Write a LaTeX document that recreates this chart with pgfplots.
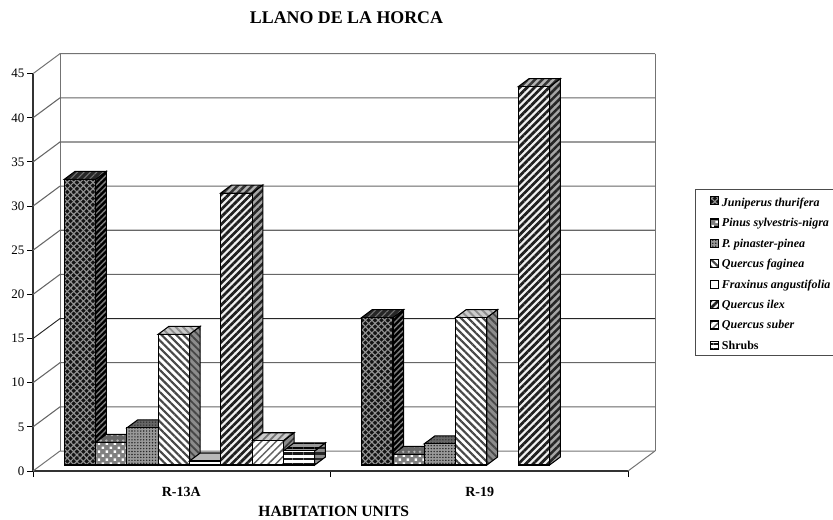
\documentclass[border=0pt]{standalone}
\usepackage{pgfplots}
\pgfplotsset{compat=1.18}
\usepackage{fontspec}
\setmainfont{Liberation Serif}
\usetikzlibrary{patterns.meta}
% 1 reference pixel = 0.75pt
\tikzset{
 % series 1: Juniperus
 F1/.style={fill=black!92},
 R1/.style={pattern={Lines[angle=45,distance=3.4pt,line width=0.85pt]},pattern color=black!42},
 P1/.style={pattern={Lines[angle=-45,distance=3.4pt,line width=0.85pt]},pattern color=black!42},
 S1/.style={fill=black}, SP1/.style={pattern={Lines[angle=45,distance=3pt,line width=1pt]},pattern color=black!50},
 T1/.style={fill=black!85}, TP1/.style={pattern={Lines[angle=45,distance=3.4pt,line width=0.8pt]},pattern color=black!55},
 % series 2: Pinus
 F2/.style={fill=black!50},
 R2/.style={draw=none},
 P2/.style={pattern={Dots[radius=1.3pt,distance=4.2pt,angle=45]},pattern color=white},
 S2/.style={fill=black!65}, SP2/.style={pattern={Dots[radius=1pt,distance=4.2pt]},pattern color=black!35},
 T2/.style={fill=black!60}, TP2/.style={pattern={Dots[radius=1pt,distance=4.2pt]},pattern color=black!30},
 % series 3: P. pinaster
 F3/.style={fill=black!40},
 R3/.style={draw=none},
 P3/.style={pattern={Dots[radius=0.6pt,distance=2.2pt]},pattern color=black!85},
 S3/.style={fill=black!65}, SP3/.style={pattern={Dots[radius=0.6pt,distance=2.2pt]},pattern color=black!85},
 T3/.style={fill=black!60}, TP3/.style={pattern={Dots[radius=0.6pt,distance=2.2pt]},pattern color=black!80},
 % series 4: Q. faginea
 F4/.style={fill=white},
 R4/.style={draw=none},
 P4/.style={pattern={Lines[angle=-45,distance=3.9pt,line width=1.6pt]},pattern color=black!72},
 S4/.style={fill=black!45}, SP4/.style={pattern={Lines[angle=-45,distance=3.9pt,line width=1.4pt]},pattern color=black!72},
 T4/.style={fill=black!20}, TP4/.style={pattern={Lines[angle=-45,distance=3.9pt,line width=1.4pt]},pattern color=black!45},
 % series 5: Fraxinus
 F5/.style={fill=white},
 R5/.style={draw=none},
 P5/.style={},
 S5/.style={fill=black!50}, SP5/.style={},
 T5/.style={fill=black!28}, TP5/.style={},
 % series 6: Q. ilex
 F6/.style={fill=black!6},
 R6/.style={draw=none},
 P6/.style={pattern={Lines[angle=45,distance=3.9pt,line width=2.05pt]},pattern color=black!88},
 S6/.style={fill=black!35}, SP6/.style={pattern={Lines[angle=45,distance=3.9pt,line width=1.9pt]},pattern color=black!85},
 T6/.style={fill=black!30}, TP6/.style={pattern={Lines[angle=45,distance=3.9pt,line width=1.9pt]},pattern color=black!80},
 % series 7: Q. suber
 F7/.style={fill=white},
 R7/.style={draw=none},
 P7/.style={pattern={Lines[angle=45,distance=3.9pt,line width=1.1pt]},pattern color=black!62},
 S7/.style={fill=black!45}, SP7/.style={pattern={Lines[angle=45,distance=3.9pt,line width=1.3pt]},pattern color=black!78},
 T7/.style={fill=black!20}, TP7/.style={pattern={Lines[angle=45,distance=3.9pt,line width=1.3pt]},pattern color=black!55},
 % series 8: Shrubs
 F8/.style={fill=white},
 R8/.style={draw=none},
 P8/.style={pattern={Lines[angle=0,distance=4.1pt,line width=2pt]},pattern color=black!90},
 S8/.style={fill=black!45}, SP8/.style={pattern={Lines[angle=0,distance=4.1pt,line width=1.8pt]},pattern color=black!85},
 T8/.style={fill=black!40}, TP8/.style={pattern={Lines[angle=0,distance=4.1pt,line width=1.8pt]},pattern color=black},
 wall/.style={draw=black!55,line width=0.75pt},
}
\newcommand\facex[3]{%
 \addplot[#1,draw=none,forget plot] coordinates {#3} --cycle;%
 \addplot[#2,draw=black,line width=0.8pt,forget plot] coordinates {#3} --cycle;}
\newcommand\facef[4]{%
 \addplot[#1,draw=none,forget plot] coordinates {#4} --cycle;%
 \addplot[#2,draw=none,forget plot] coordinates {#4} --cycle;%
 \addplot[#3,draw=black,line width=0.8pt,forget plot] coordinates {#4} --cycle;}
% \threedbar{series}{left x (px)}{value}
\newcommand\threedbar[3]{%
 \pgfmathsetmacro\xa{#2}\pgfmathsetmacro\xb{#2+31.3}\pgfmathsetmacro\xc{#2+42}\pgfmathsetmacro\xd{#2+10.7}%
 \pgfmathsetmacro\ya{0.68}\pgfmathsetmacro\yb{#3+0.68}%
 \pgfmathsetmacro\yc{0.68+0.906}\pgfmathsetmacro\yd{#3+0.68+0.906}%
 \edef\doit{%
 \noexpand\facex{S#1}{SP#1}{(\xb,\ya)(\xc,\yc)(\xc,\yd)(\xb,\yb)}%
 \noexpand\facex{T#1}{TP#1}{(\xa,\yb)(\xb,\yb)(\xc,\yd)(\xd,\yd)}%
 \noexpand\facef{F#1}{R#1}{P#1}{(\xa,\ya)(\xb,\ya)(\xb,\yb)(\xa,\yb)}%
 }\doit}
\newcommand\swatch[1]{\fill[F#1] (0pt,-2.5pt) rectangle (6pt,3.5pt);\path[R#1] (0pt,-2.5pt) rectangle (6pt,3.5pt);\draw[P#1,draw=black,line width=0.9pt] (0pt,-2.5pt) rectangle (6pt,3.5pt);}
\begin{document}
\begin{tikzpicture}[x=1pt,y=1pt]
\path[use as bounding box] (0,0) rectangle (624.75,389.25);
\begin{axis}[
 at={(24.75pt,36pt)},anchor=south west,
 scale only axis,width=446.25pt,height=298pt,
 xmin=33,xmax=628,ymin=0,ymax=45,clip=false,
 axis x line*=bottom,axis y line*=left,
 axis line style={black!80,line width=1pt},
 tick align=outside,major tick length=4.5pt,minor tick length=4.5pt,
 ytick={0,5,...,45},
 xtick={181.25,479.75},xticklabels={R-13A,R-19},
 minor xtick={33,330.5,628},
 major x tick style={draw=none},
 minor x tick style={draw=black,line width=0.75pt},
 y tick style={draw=black,line width=0.75pt},
 /pgf/number format/assume math mode=true,
 tick label style={font=\fontsize{9.75}{11}\selectfont},
 yticklabel style={xshift=1.5pt},
 xticklabel style={font=\fontsize{10.5}{12}\selectfont\bfseries,yshift=-4pt},
 title={LLANO DE LA HORCA},
 title style={font=\fontsize{13.4}{15}\selectfont\bfseries,at={(axis description cs:0.5269,1.122)},anchor=center},
 xlabel={HABITATION UNITS},
 xlabel style={font=\fontsize{11.7}{13}\selectfont\bfseries,at={(axis description cs:0.5055,-0.102)},anchor=center},
 legend style={at={(axis description cs:1.112,0.7097)},anchor=north west,draw=black!70,line width=1pt,
   font=\fontsize{9}{11}\selectfont\bfseries\itshape,inner xsep=11pt,inner ysep=1.5pt,
   row sep=3.5pt,cells={anchor=west}},
]
% back walls, floor, gridlines
\addplot[wall,forget plot] coordinates {(60,2.265)(60,47.265)};
\addplot[wall,forget plot] coordinates {(655,2.265)(655,47.265)};
\addplot[wall,forget plot] coordinates {(628,0)(655,2.265)};
\addplot[wall,forget plot] coordinates {(33,0)(60,2.265)(655,2.265)};
\addplot[draw=black!60,line width=0.8pt,forget plot] coordinates {(33,5)(60,7.265)(655,7.265)};
\addplot[draw=black!60,line width=0.8pt,forget plot] coordinates {(33,10)(60,12.265)(655,12.265)};
\addplot[draw=black!85,line width=0.7pt,forget plot] coordinates {(33,15)(60,17.265)(655,17.265)};
\addplot[draw=black!60,line width=0.8pt,forget plot] coordinates {(33,20)(60,22.265)(655,22.265)};
\addplot[draw=black!60,line width=0.8pt,forget plot] coordinates {(33,25)(60,27.265)(655,27.265)};
\addplot[draw=black!60,line width=0.8pt,forget plot] coordinates {(33,30)(60,32.265)(655,32.265)};
\addplot[draw=black!60,line width=0.8pt,forget plot] coordinates {(33,35)(60,37.265)(655,37.265)};
\addplot[draw=black!60,line width=0.8pt,forget plot] coordinates {(33,40)(60,42.265)(655,42.265)};
\addplot[wall,forget plot] coordinates {(33,45)(60,47.265)(655,47.265)};
% R-13A
\threedbar{1}{64.3}{32.35}
\threedbar{2}{95.6}{2.57}
\threedbar{3}{126.9}{4.2}
\threedbar{4}{158.2}{14.8}
\threedbar{5}{189.5}{0.45}
\threedbar{6}{220.8}{30.8}
\threedbar{7}{252.1}{2.75}
\threedbar{8}{283.4}{1.6}
% R-19
\threedbar{1}{361.7}{16.7}
\threedbar{2}{393}{1.2}
\threedbar{3}{424.3}{2.4}
\threedbar{4}{455.6}{16.7}
\threedbar{6}{518.3}{42.85}
% legend
\addlegendimage{legend image code/.code={\swatch{1}}}
\addlegendentry{\rule{0pt}{9.2pt}\makebox[115pt][l]{Juniperus thurifera}}
\addlegendimage{legend image code/.code={\swatch{2}}}
\addlegendentry{Pinus sylvestris-nigra}
\addlegendimage{legend image code/.code={\swatch{3}}}
\addlegendentry{P. pinaster-pinea}
\addlegendimage{legend image code/.code={\swatch{4}}}
\addlegendentry{Quercus faginea}
\addlegendimage{legend image code/.code={\swatch{5}}}
\addlegendentry{Fraxinus angustifolia}
\addlegendimage{legend image code/.code={\swatch{6}}}
\addlegendentry{Quercus ilex}
\addlegendimage{legend image code/.code={\swatch{7}}}
\addlegendentry{Quercus suber}
\addlegendimage{legend image code/.code={\swatch{8}}}
\addlegendentry{\upshape Shrubs}
\end{axis}
\end{tikzpicture}
\end{document}
